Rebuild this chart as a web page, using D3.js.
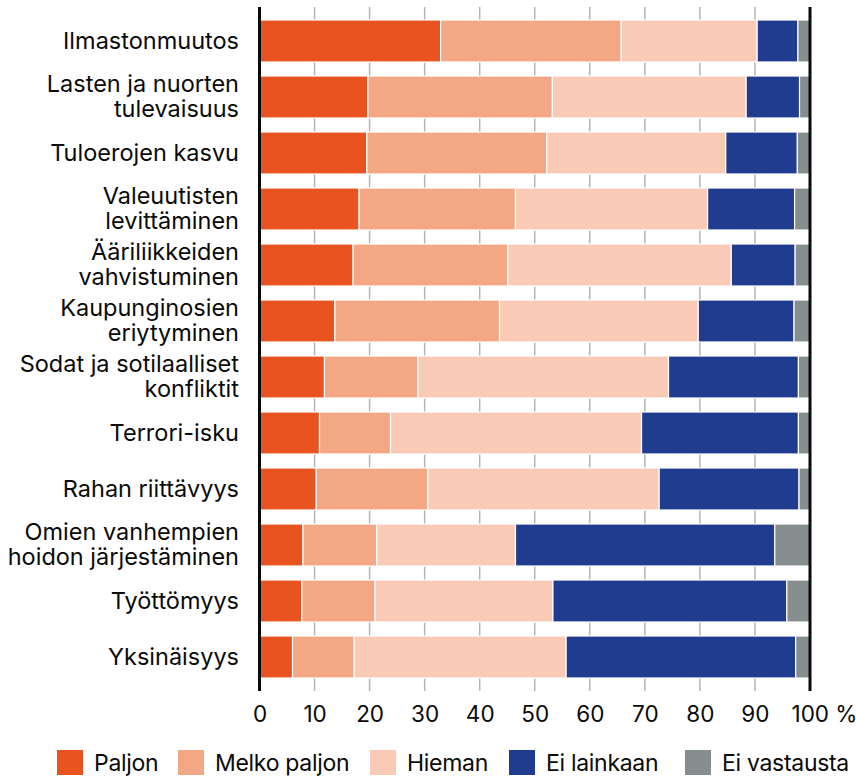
<!DOCTYPE html>
<html><head><meta charset="utf-8">
<script src="https://cdn.jsdelivr.net/npm/d3@7"></script>
<style>
body{margin:0;background:#fff;}
text{font-family:Inter,"Noto Sans",sans-serif;fill:#0a0a0a;}
</style></head><body>
<svg id="chart" width="856" height="780"></svg>
<script>
const categories = [
  ["Ilmastonmuutos"],
  ["Lasten ja nuorten","tulevaisuus"],
  ["Tuloerojen kasvu"],
  ["Valeuutisten","levittäminen"],
  ["Ääriliikkeiden","vahvistuminen"],
  ["Kaupunginosien","eriytyminen"],
  ["Sodat ja sotilaalliset","konfliktit"],
  ["Terrori-isku"],
  ["Rahan riittävyys"],
  ["Omien vanhempien","hoidon järjestäminen"],
  ["Työttömyys"],
  ["Yksinäisyys"]
];
const seriesNames = ["Paljon","Melko paljon","Hieman","Ei lainkaan","Ei vastausta"];
const seriesColors = ["#E8531F","#F4A784","#F9CBB7","#1F3C8F","#868D8F"];
const paljon      = [32.9,19.7,19.5,18.1,17.0,13.7,11.8,10.9,10.3, 7.9, 7.7, 6.0];
const melkoPaljon = [32.8,33.5,32.7,28.4,28.1,29.9,17.0,12.9,20.3,13.4,13.3,11.2];
const hieman      = [24.7,35.2,32.5,34.9,40.6,36.1,45.5,45.6,42.0,25.2,32.3,38.5];
const eiLainkaan  = [ 7.4, 9.7,13.0,15.8,11.6,17.4,23.6,28.5,25.4,47.1,42.5,41.7];
const eiVastausta = [ 2.2, 1.9, 2.3, 2.8, 2.7, 2.9, 2.1, 2.1, 2.0, 6.4, 4.2, 2.6];
const tickValues = [0,10,20,30,40,50,60,70,80,90,100];
const tickLabels = ["0","10","20","30","40","50","60","70","80","90","100 %"];

const series = [paljon, melkoPaljon, hieman, eiLainkaan, eiVastausta];
const svg = d3.select("#chart");
const x = d3.scaleLinear().domain([0,100]).range([259.5,810]);
const y = d3.scaleBand().domain(d3.range(categories.length)).range([13,685]).paddingInner(0.25).paddingOuter(0.125);

// gridlines
svg.append("g").selectAll("line").data(tickValues.slice(1,-1)).join("line")
  .attr("x1",d=>x(d)).attr("x2",d=>x(d)).attr("y1",7).attr("y2",691)
  .attr("stroke","#b5b5b5").attr("stroke-width",1.5);

// bars
const rows = categories.map((c,i)=>{
  let acc=0;
  return series.map((s,k)=>{const v=s[i]; const o={i,k,x0:acc,x1:acc+v}; acc+=v; return o;});
});
svg.append("g").selectAll("g").data(rows).join("g").selectAll("rect").data(d=>d).join("rect")
  .attr("x",d=>x(d.x0)).attr("width",d=>Math.max(0,x(d.x1)-x(d.x0)))
  .attr("y",d=>y(d.i)).attr("height",y.bandwidth())
  .attr("fill",d=>seriesColors[d.k]).attr("stroke","#fff").attr("stroke-width",1.2);

// axis lines
[0,100].forEach(v=>{
  svg.append("line").attr("x1",x(v)).attr("x2",x(v)).attr("y1",7).attr("y2",691)
    .attr("stroke","#0a0a0a").attr("stroke-width",3);
});

// x tick labels
const xAxis = d3.axisBottom(x).tickValues(tickValues).tickFormat((d,i)=>tickLabels[i]).tickSize(0).tickPadding(0);
const gx = svg.append("g").attr("transform","translate(0,722)").call(xAxis);
gx.select(".domain").remove();
gx.selectAll("text").attr("font-size",22.5).attr("fill","#0a0a0a").style("font-family","Inter, sans-serif")
  .attr("dy",0).attr("y",0)
  .attr("text-anchor",(d)=>d===100?"start":"middle").attr("dx",(d)=>d===100?-19:0);

// category labels
const lab = svg.append("g").selectAll("text").data(categories).join("text")
  .attr("x",239).attr("y",(d,i)=>y(i)+y.bandwidth()/2).attr("text-anchor","end")
  .attr("font-size",23.5);
lab.selectAll("tspan").data(d=>d.map((t,j)=>({t,j,n:d.length}))).join("tspan")
  .attr("x",239).attr("dy",d=>d.j===0?(d.n===1?8:-5):25).text(d=>d.t);

// legend
const legX = [57,178,370,509,685];
const lg = svg.append("g").selectAll("g").data(seriesNames).join("g")
  .attr("transform",(d,i)=>`translate(${legX[i]},750)`);
lg.append("rect").attr("width",26).attr("height",25).attr("fill",(d,i)=>seriesColors[i]);
lg.append("text").attr("x",37).attr("y",21).attr("font-size",23).attr("letter-spacing",-0.3).text(d=>d);
</script></body></html>
